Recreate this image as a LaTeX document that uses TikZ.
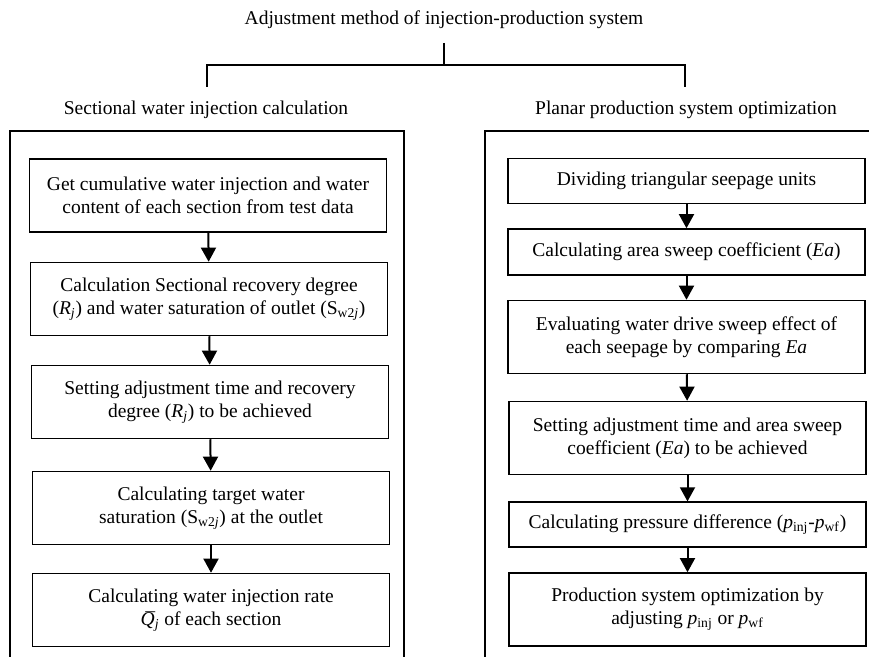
\documentclass[tikz,border=0pt]{standalone}
\usepackage{fontspec}
\setmainfont{Liberation Serif}
\usetikzlibrary{arrows.meta}
\newcommand{\qbar}{\textit{\ooalign{Q\cr\hidewidth\kern0.1em\raisebox{-0.06em}{^^^^00af}\hidewidth\cr}}}

\begin{document}
\begin{tikzpicture}[x=0.6pt,y=-0.6pt,
	font=\fontsize{11.7}{13.8}\selectfont,
	box/.style={draw,line width=0.9pt,align=center,inner sep=2pt,minimum width=214pt},
	tallbox/.style={box,minimum height=43.8pt},
	lowbox/.style={box,minimum height=26.8pt},
	flow/.style={-{Triangle[width=9pt,length=8.5pt]},line width=1.2pt},
	bracket/.style={line width=1.3pt},
	frame/.style={line width=1.5pt}]
	\path[use as bounding box,clip] (0,0) rectangle (869,657);
	\node (title) at (444,20) {Adjustment method of injection-production system};
	\node (lsub) at (206,110) {Sectional water injection calculation};
	\node (rsub) at (686,110) {Planar production system optimization};
	\coordinate (top) at (444,43);
	\coordinate (fork) at (444,65);
	\coordinate (lend) at (207,87);
	\coordinate (rend) at (685,87);
	\draw[bracket] (top) -- (fork);
	\draw[bracket] (lend) |- (fork) -| (rend);
	\draw[frame] (10,131) rectangle (404,680);
	\draw[frame] (485,131) rectangle (890,680);
	\node[tallbox] (l1) at (208,195.5) {Get cumulative water injection and water\\content of each section from test data};
	\node[tallbox] (l2) at (209,299) {Calculation Sectional recovery degree\\(\textit{R}\textsubscript{\textit{j}}) and water saturation of outlet (S\textsubscript{w2\textit{j}})};
	\node[tallbox] (l3) at (210,402) {Setting adjustment time and recovery\\degree (\textit{R}\textsubscript{\textit{j}}) to be achieved};
	\node[tallbox] (l4) at (211,508) {Calculating target water\\saturation (S\textsubscript{w2\textit{j}}) at the outlet};
	\node[tallbox] (l5) at (211,610) {Calculating water injection rate\\\qbar\textsubscript{\textit{j}} of each section};
	\node[lowbox] (r1) at (686.5,181) {Dividing triangular seepage units};
	\node[lowbox,minimum height=27.6pt] (r2) at (686.5,252) {Calculating area sweep coefficient (\textit{Ea})};
	\node[tallbox] (r3) at (686.5,337) {Evaluating water drive sweep effect of\\each seepage by comparing \textit{Ea}};
	\node[tallbox] (r4) at (687.5,438) {Setting adjustment time and area sweep\\coefficient (\textit{Ea}) to be achieved};
	\node[lowbox] (r5) at (687.5,524.5) {Calculating pressure difference (\textit{p}\textsubscript{inj}-\textit{p}\textsubscript{wf})};
	\node[tallbox] (r6) at (687.5,609.5) {Production system optimization by\\adjusting \textit{p}\textsubscript{inj} or \textit{p}\textsubscript{wf}};
	\foreach \a/\b in {l1/l2,l2/l3,l3/l4,l4/l5,r1/r2,r2/r3,r3/r4,r4/r5,r5/r6}
		\draw[flow] (\a) -- (\b);
\end{tikzpicture}
\end{document}
